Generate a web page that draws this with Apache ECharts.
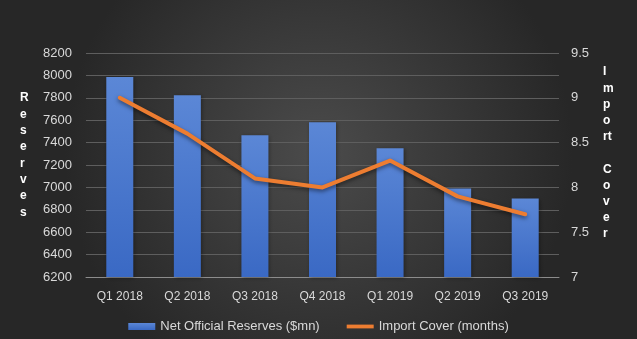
<!DOCTYPE html>
<html><head><meta charset="utf-8">
<script src="https://cdn.jsdelivr.net/npm/echarts@6/dist/echarts.min.js"></script>
<style>html,body{margin:0;padding:0;background:#333}#c{width:637px;height:339px}</style>
</head><body><div id="c"></div>
<script>
const categories = ['Q1 2018','Q2 2018','Q3 2018','Q4 2018','Q1 2019','Q2 2019','Q3 2019'];
const reserves = [7985, 7822, 7466, 7582, 7350, 6990, 6900];
const importCover = [9.0, 8.6, 8.1, 8.0, 8.3, 7.9, 7.7];
const leftTicks = {min: 6200, max: 8200, interval: 200};
const rightTicks = {min: 7, max: 9.5, interval: 0.5};

const chart = echarts.init(document.getElementById('c'), null, {renderer: 'canvas'});
const labelColor = '#d9d9d9';
chart.setOption({
  backgroundColor: {
    type: 'radial', x: 0.5, y: 0.45, r: 0.75,
    colorStops: [{offset: 0, color: '#4b4b4b'}, {offset: 1, color: '#272727'}]
  },
  animation: false,
  grid: {left: 86, right: 78, top: 53, bottom: 62},
  legend: {
    left: 'center', top: 315, itemGap: 27, itemWidth: 27, itemHeight: 7,
    textStyle: {color: labelColor, fontSize: 13, fontFamily: 'Liberation Sans'},
    data: [
      {name: 'Net Official Reserves ($mn)', icon: 'rect'},
      {name: 'Import Cover (months)', icon: 'path://M0,0 M0,1.6 L27,1.6 L27,5.4 L0,5.4 Z M27,7'}
    ]
  },
  xAxis: {
    type: 'category', data: categories,
    axisLine: {lineStyle: {color: '#8c8c8c', width: 1}},
    axisTick: {show: false},
    axisLabel: {color: labelColor, fontSize: 12, fontFamily: 'Liberation Sans', margin: 14}
  },
  yAxis: [{
    type: 'value', min: leftTicks.min, max: leftTicks.max, interval: leftTicks.interval,
    axisLine: {show: false}, axisTick: {show: false},
    axisLabel: {color: labelColor, fontSize: 13, fontFamily: 'Liberation Sans', margin: 14, formatter: v => String(v)},
    splitLine: {lineStyle: {color: '#5e5e5e', width: 1}}
  }, {
    type: 'value', min: rightTicks.min, max: rightTicks.max, interval: rightTicks.interval,
    axisLine: {show: false}, axisTick: {show: false},
    axisLabel: {color: labelColor, fontSize: 13, fontFamily: 'Liberation Sans', margin: 12, formatter: v => String(v)},
    splitLine: {show: false}
  }],
  graphic: [{
    type: 'text', left: 20, top: 90,
    style: {text: 'R\ne\ns\ne\nr\nv\ne\ns', fill: '#ffffff', font: 'bold 12px "Liberation Sans"', lineHeight: 16.3, align: 'center'}
  }, {
    type: 'text', left: 603, top: 64,
    style: {text: 'I\nm\np\no\nrt\n\nC\no\nv\ne\nr', fill: '#ffffff', font: 'bold 12px "Liberation Sans"', lineHeight: 16.2, align: 'center'}
  }],
  series: [{
    name: 'Net Official Reserves ($mn)', type: 'bar', data: reserves, barWidth: 27, yAxisIndex: 0,
    itemStyle: {
      color: {type: 'linear', x: 0, y: 0, x2: 0, y2: 1,
        colorStops: [{offset: 0, color: '#5b87d6'}, {offset: 1, color: '#3a69c4'}]},
      shadowColor: 'rgba(0,0,0,0.35)', shadowBlur: 4, shadowOffsetX: 1, shadowOffsetY: 1
    }
  }, {
    name: 'Import Cover (months)', type: 'line', data: importCover, yAxisIndex: 1,
    symbol: 'none', itemStyle: {color: '#ed7d31'},
    lineStyle: {color: '#ed7d31', width: 4, shadowColor: 'rgba(0,0,0,0.5)', shadowBlur: 4, shadowOffsetY: 2, cap: 'round', join: 'round'}
  }]
});
</script></body></html>
